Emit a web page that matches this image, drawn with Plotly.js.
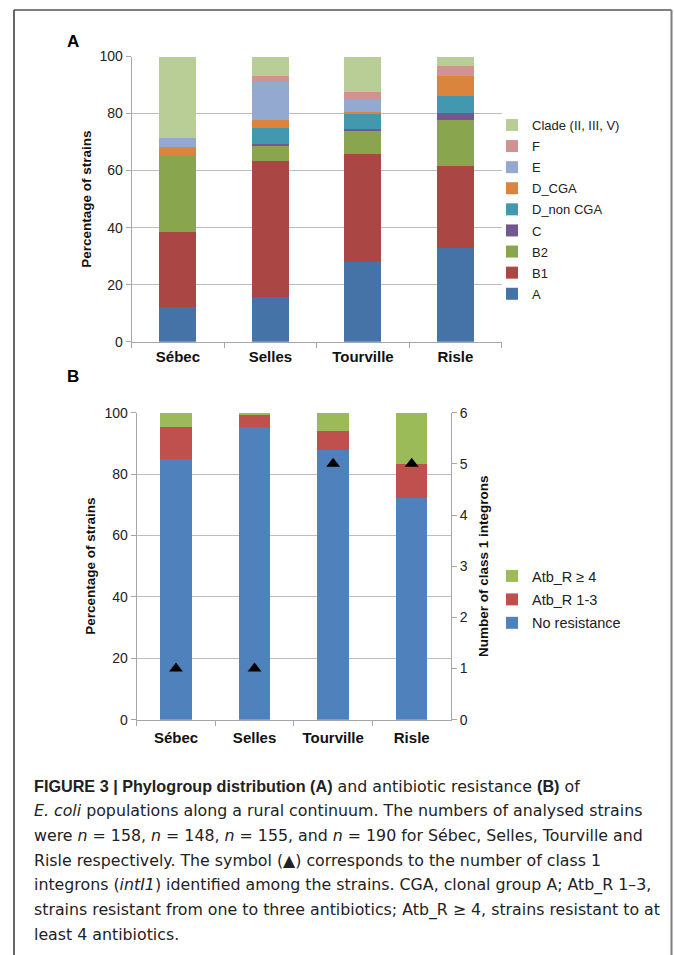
<!DOCTYPE html>
<html>
<head>
<meta charset="utf-8">
<script src="https://cdn.plot.ly/plotly-3.0.1.min.js"></script>
<style>html,body{margin:0;padding:0;background:#fff;} #chart{width:674px;height:955px;}</style>
</head>
<body>
<div id="chart"></div>
<script>
// ---------- Data ----------
const sites = ["Sébec", "Selles", "Tourville", "Risle"];

// Panel A: phylogroup distribution (% of strains)
const phyloNames = ["A", "B1", "B2", "C", "D_non CGA", "D_CGA", "E", "F", "Clade (II, III, V)"];
const pgA      = [12.0, 15.5, 27.8, 32.7];
const pgB1     = [26.5, 47.9, 37.9, 28.8];
const pgB2     = [26.5,  5.3,  8.2, 16.3];
const pgC      = [ 0.0,  0.6,  0.8,  2.5];
const pgDnon   = [ 0.0,  5.6,  5.2,  5.8];
const pgDcga   = [ 3.3,  2.7,  0.7,  7.0];
const pgE      = [ 3.1, 13.4,  4.2,  0.5];
const pgF      = [ 0.0,  2.1,  2.7,  3.0];
const pgClade  = [28.6,  6.9, 12.5,  3.4];
const phyloValues = [pgA, pgB1, pgB2, pgC, pgDnon, pgDcga, pgE, pgF, pgClade];

// Panel B: antibiotic resistance (% of strains)
const resNames = ["No resistance", "Atb_R 1-3", "Atb_R ≥ 4"];
const resNone  = [84.8, 95.2, 87.8, 72.1];
const res13    = [10.6,  4.0,  6.3, 11.1];
const res4     = [ 4.6,  0.8,  5.9, 16.8];
const resValues = [resNone, res13, res4];

// Number of class 1 integrons (triangles, right axis)
const integrons = [1, 1, 5, 5];

// ---------- Styles ----------
const phyloColors = ["#4572A7", "#AA4643", "#89A54E", "#71588F", "#4198AF", "#DB843D", "#93A9CF", "#D19392", "#B9CD96"];
const resColors = ["#4F81BD", "#C0504D", "#9BBB59"];
const W = 674, H = 955;
const px = x => x / W;
const py = y => 1 - y / H;
const FONT = "Liberation Sans, Arial, sans-serif";
const CAPFONT = "DejaVu Sans, Liberation Sans, sans-serif";

const traces = [];
phyloNames.forEach((n, i) => {
  traces.push({
    type: "bar", name: n, x: sites, y: phyloValues[i],
    xaxis: "x", yaxis: "y",
    marker: {color: phyloColors[i], line: {width: 0}},
    legend: "legend", legendgroup: "a" + i, legendrank: 100 - i, hoverinfo: "name+y"
  });
});
resNames.forEach((n, i) => {
  traces.push({
    type: "bar", name: n, x: sites, y: resValues[i],
    xaxis: "x2", yaxis: "y2",
    marker: {color: resColors[i], line: {width: 0}},
    legend: "legend2", legendgroup: "b" + i, legendrank: 100 - i, hoverinfo: "name+y"
  });
});
traces.push({
  type: "scatter", mode: "markers", name: "Class 1 integrons",
  x: sites, y: integrons, xaxis: "x2", yaxis: "y3",
  marker: {symbol: "triangle-up", color: "#000", size: 12},
  showlegend: false
});

const grid = "#BDBDBD", axLine = "#A6A6A6";
const tickFont = {family: FONT, size: 14, color: "#222"};
const catFont = {family: FONT, size: 15, color: "#111", weight: "bold"};
const titleFont = {family: FONT, size: 13.5, color: "#111", weight: "bold"};

const layout = {
  width: W, height: H,
  margin: {l: 0, r: 0, t: 0, b: 0},
  paper_bgcolor: "#fff", plot_bgcolor: "rgba(0,0,0,0)",
  barmode: "stack", bargap: 0.6,
  font: {family: FONT, color: "#222"},
  xaxis: {
    domain: [px(131.7), px(501.7)], anchor: "y",
    showline: true, linecolor: axLine, linewidth: 1,
    ticks: "outside", tickson: "boundaries", ticklen: 5, tickcolor: axLine,
    tickfont: catFont, ticklabelstandoff: 1, fixedrange: true
  },
  yaxis: {
    domain: [py(341.7), py(56.5)], anchor: "x",
    range: [0, 100], dtick: 20,
    showline: true, linecolor: axLine, ticks: "outside", ticklen: 5, tickcolor: axLine,
    showgrid: true, gridcolor: grid, zeroline: false,
    tickfont: tickFont,
    title: {text: "Percentage of strains", font: titleFont, standoff: 4},
    fixedrange: true
  },
  xaxis2: {
    domain: [px(136.7), px(451)], anchor: "y2",
    showline: true, linecolor: axLine, linewidth: 1,
    ticks: "outside", tickson: "boundaries", ticklen: 5, tickcolor: axLine,
    tickfont: catFont, ticklabelstandoff: 4, fixedrange: true
  },
  yaxis2: {
    domain: [py(719.7), py(412.7)], anchor: "x2",
    range: [0, 100], dtick: 20,
    showline: true, linecolor: axLine, ticks: "outside", ticklen: 5, tickcolor: axLine,
    showgrid: true, gridcolor: grid, zeroline: false,
    tickfont: tickFont,
    title: {text: "Percentage of strains", font: titleFont, standoff: 5},
    fixedrange: true
  },
  yaxis3: {
    overlaying: "y2", side: "right", anchor: "x2",
    range: [0, 6], dtick: 1,
    showline: true, linecolor: axLine, ticks: "outside", ticklen: 5, tickcolor: axLine,
    showgrid: false, zeroline: false,
    tickfont: tickFont,
    title: {text: "Number of class 1 integrons", font: titleFont, standoff: 11},
    fixedrange: true
  },
  legend: {
    x: px(492), y: py(110), xanchor: "left", yanchor: "top",
    traceorder: "grouped", tracegroupgap: 1.2,
    font: {family: FONT, size: 13, color: "#222"},
    bgcolor: "rgba(0,0,0,0)", itemwidth: 30
  },
  legend2: {
    x: px(492), y: py(560), xanchor: "left", yanchor: "top",
    traceorder: "grouped", tracegroupgap: 1.6,
    font: {family: FONT, size: 14.5, color: "#222"},
    bgcolor: "rgba(0,0,0,0)", itemwidth: 30
  },
  shapes: [
    {type: "line", xref: "paper", yref: "paper", x0: px(14), x1: px(671.5), y0: py(10), y1: py(10), line: {color: "#7f7f7f", width: 2}},
    {type: "line", xref: "paper", yref: "paper", x0: px(14), x1: px(14), y0: py(10), y1: 0, line: {color: "#333", width: 1.5}},
    {type: "line", xref: "paper", yref: "paper", x0: px(671.5), x1: px(671.5), y0: py(10), y1: 0, line: {color: "#7f7f7f", width: 2}}
  ],
  annotations: []
};

// Panel letters
layout.annotations.push({xref: "paper", yref: "paper", x: px(73), y: py(41), text: "<b>A</b>", showarrow: false,
  xanchor: "center", yanchor: "middle", font: {family: FONT, size: 17, color: "#000"}});
layout.annotations.push({xref: "paper", yref: "paper", x: px(73), y: py(376), text: "<b>B</b>", showarrow: false,
  xanchor: "center", yanchor: "middle", font: {family: FONT, size: 17, color: "#000"}});

// Caption
const B = s => '<span style="font-family:Liberation Sans;font-size:16.2px"><b>' + s + '</b></span>';
const captionLines = [
  B("FIGURE 3 | Phylogroup distribution (A)") + " and antibiotic resistance " + B("(B)") + " of",
  "<i>E. coli</i> populations along a rural continuum. The numbers of analysed strains",
  "were <i>n</i> = 158, <i>n</i> = 148, <i>n</i> = 155, and <i>n</i> = 190 for Sébec, Selles, Tourville and",
  "Risle respectively. The symbol (▲) corresponds to the number of class 1",
  "integrons (<i>intI1</i>) identified among the strains. CGA, clonal group A; Atb_R 1–3,",
  "strains resistant from one to three antibiotics; Atb_R ≥ 4, strains resistant to at",
  "least 4 antibiotics."
];
captionLines.forEach((t, i) => {
  layout.annotations.push({xref: "paper", yref: "paper", x: px(32), y: py(786 + 24.8 * i), text: t,
    showarrow: false, xanchor: "left", yanchor: "middle", align: "left",
    font: {family: CAPFONT, size: 15.8, color: "#222"}});
});

Plotly.newPlot("chart", traces, layout, {displayModeBar: false, staticPlot: true});
</script>
</body>
</html>
